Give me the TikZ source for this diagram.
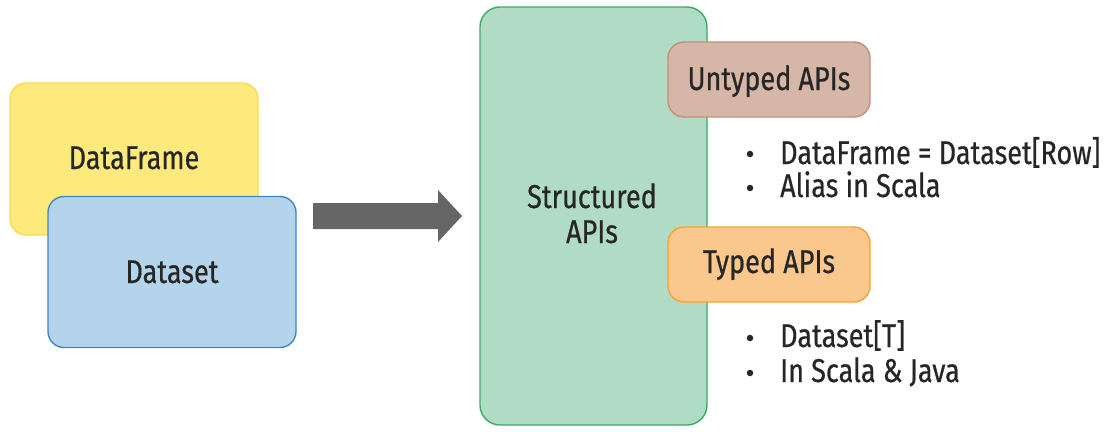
\documentclass[tikz,border=0pt]{standalone}
\usepackage{fontspec}
\setmainfont{Fira Sans}[FakeStretch=0.82,FakeBold=0.5]
\begin{document}
\begin{tikzpicture}[x=1pt,y=-1pt,
  lbl/.style={inner sep=0pt, font=\fontsize{33}{35}\selectfont, text=black!85},
  box/.style={draw, rounded corners=16pt, line width=1.4pt, inner sep=0pt},
  bul/.style={lbl, anchor=base west},
  dot/.style={circle, fill=black!85, inner sep=0pt, minimum size=6.5pt}]
\definecolor{yfill}{HTML}{FEE97C}\definecolor{ydraw}{HTML}{F9DC4E}
\definecolor{bfill}{HTML}{B3D4EA}\definecolor{bdraw}{HTML}{3E86C2}
\definecolor{gfill}{HTML}{B0DCC5}\definecolor{gdraw}{HTML}{3DAA64}
\definecolor{rfill}{HTML}{D5B6A7}\definecolor{rdraw}{HTML}{C28F79}
\definecolor{ofill}{HTML}{FAC78C}\definecolor{odraw}{HTML}{F4A234}
\definecolor{arr}{HTML}{666666}
\useasboundingbox (0,0) rectangle (1107,431);
\node[box, fill=yfill, draw=ydraw, minimum width=248pt, minimum height=152pt] (df) at (134,159) {};
\node[lbl, anchor=base] (dft) at (134,169) {DataFrame};
\node[box, fill=bfill, draw=bdraw, minimum width=248pt, minimum height=151pt] (ds) at (172,272) {};
\node[lbl, anchor=base] (dst) at (172,283) {Dataset};
\fill[arr] (313,203) -- (438,203) -- (438,190) -- (462,216) -- (438,242) -- (438,229) -- (313,229) -- cycle;
\node[box, fill=gfill, draw=gdraw, rounded corners=20pt, minimum width=227pt, minimum height=418pt] (sa) at (593.5,216) {};
\node[lbl, anchor=base, align=center] (sat) at (592,243) {Structured\\APIs};
\node[box, fill=rfill, draw=rdraw, minimum width=202pt, minimum height=75pt] (un) at (769,79.5) {};
\node[lbl, anchor=base] (unt) at (769,90) {Untyped APIs};
\node[box, fill=ofill, draw=odraw, minimum width=202pt, minimum height=75pt] (ty) at (769,264.5) {};
\node[lbl, anchor=base] (tyt) at (769,273) {Typed APIs};
\node[dot] (b1) at (750,154) {};
\node[bul] (l1) at (780,164) {DataFrame = Dataset[Row]};
\node[dot] (b2) at (750,188) {};
\node[bul] (l2) at (780,197) {Alias in Scala};
\node[dot] (b3) at (750,338) {};
\node[bul] (l3) at (780,347) {Dataset[T]};
\node[dot] (b4) at (750,373) {};
\node[bul] (l4) at (780,382) {In Scala \& Java};
\end{tikzpicture}
\end{document}
